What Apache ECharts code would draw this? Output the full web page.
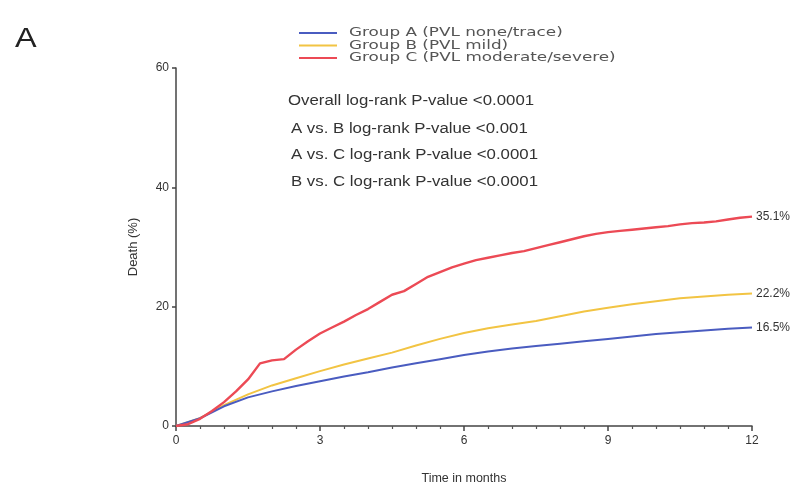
<!DOCTYPE html>
<html>
<head>
<meta charset="utf-8">
<script src="https://cdn.jsdelivr.net/npm/echarts@6/dist/echarts.min.js"></script>
<style>
  html, body { margin: 0; padding: 0; background: #fff; }
  #chart { width: 804px; height: 495px; }
</style>
</head>
<body>
<div id="chart"></div>
<script>
// Cumulative death (%) over the first year, by paravalvular leak grade
const monthsFine = [0,0.25,0.5,0.75,1,1.25,1.5,1.75,2,2.25,2.5,2.75,3,3.25,3.5,3.75,4,4.25,4.5,4.75,5,5.25,5.5,5.75,6,6.25,6.5,6.75,7,7.25,7.5,7.75,8,8.25,8.5,8.75,9,9.25,9.5,9.75,10,10.25,10.5,10.75,11,11.25,11.5,11.75,12];
const monthsHalf = [0,0.5,1,1.5,2,2.5,3,3.5,4,4.5,5,5.5,6,6.5,7,7.5,8,8.5,9,9.5,10,10.5,11,11.5,12];

const groupA = [0,1.3,3.3,4.8,5.8,6.7,7.5,8.3,9.0,9.8,10.5,11.2,11.9,12.5,13.0,13.4,13.8,14.2,14.6,15.0,15.4,15.7,16.0,16.3,16.5];
const groupB = [0,1.3,3.5,5.3,6.8,8.0,9.2,10.3,11.3,12.3,13.5,14.6,15.6,16.4,17.0,17.6,18.4,19.2,19.8,20.4,20.9,21.4,21.7,22.0,22.2];
const groupC = [0,0.3,1.2,2.5,4.0,5.8,7.8,10.5,11.0,11.2,12.8,14.2,15.5,16.5,17.5,18.6,19.6,20.8,22.0,22.6,23.8,25.0,25.8,26.6,27.2,27.8,28.2,28.6,29.0,29.3,29.8,30.3,30.8,31.3,31.8,32.2,32.5,32.7,32.9,33.1,33.3,33.5,33.8,34.0,34.1,34.3,34.6,34.9,35.1];

const seriesNames = ['Group A (PVL none/trace)', 'Group B (PVL mild)', 'Group C (PVL moderate/severe)'];
const seriesColors = ['#4a5cc0', '#f2c443', '#ec4a55'];
const xTicks = [0, 3, 6, 9, 12];
const yTicks = [0, 20, 40, 60];
const pValueLines = [
  'Overall log-rank P-value <0.0001',
  'A vs. B log-rank P-value <0.001',
  'A vs. C log-rank P-value <0.0001',
  'B vs. C log-rank P-value <0.0001'
];

const FONT = '"Liberation Sans", Arial, sans-serif';
const pair = (xs, ys) => xs.map((x, i) => [x, ys[i]]);

const endLabel = {
  show: true,
  formatter: p => p.value[1].toFixed(1) + '%',
  color: '#333',
  fontFamily: FONT,
  fontSize: 12,
  distance: 4
};

// Key: line swatches with wide captions, placed directly in pixel space
const legendItems = [];
seriesNames.forEach((name, i) => {
  const y = 33 + i * 12.5;
  legendItems.push({
    type: 'line',
    silent: true,
    shape: { x1: 299, y1: y, x2: 337, y2: y },
    style: { stroke: seriesColors[i], lineWidth: 2 }
  });
  legendItems.push({
    type: 'text',
    silent: true,
    x: 349, y: y,
    scaleX: 1.4,
    style: { text: name, font: '12px "DejaVu Sans", sans-serif', fill: '#555', verticalAlign: 'middle' }
  });
});

const pValueItems = pValueLines.map((t, i) => ({
  type: 'text',
  silent: true,
  x: i === 0 ? 288 : 291,
  y: i === 0 ? 94 : 122 + (i - 1) * 26.5,
  scaleX: 1.2,
  style: { text: t, font: '14px ' + FONT, fill: '#333' }
}));

const chart = echarts.init(document.getElementById('chart'), null, { renderer: 'canvas' });

chart.setOption({
  animation: false,
  backgroundColor: '#fff',
  textStyle: { fontFamily: FONT },
  grid: { left: 176, right: 52, top: 68, bottom: 69 },
  xAxis: {
    type: 'value',
    min: xTicks[0],
    max: xTicks[xTicks.length - 1],
    interval: 3,
    name: 'Time in months',
    nameLocation: 'middle',
    nameGap: 46,
    nameTextStyle: { fontFamily: FONT, fontSize: 12.5, color: '#333' },
    axisLine: { lineStyle: { color: '#444', width: 1.5 } },
    axisTick: { show: true, length: 5, lineStyle: { color: '#444', width: 1.5 } },
    minorTick: { show: true, splitNumber: 6, length: 3, lineStyle: { color: '#555', width: 1.2 } },
    axisLabel: { fontFamily: FONT, fontSize: 12, color: '#333', margin: 9 },
    splitLine: { show: false }
  },
  yAxis: {
    type: 'value',
    min: yTicks[0],
    max: yTicks[yTicks.length - 1],
    interval: 20,
    name: 'Death (%)',
    nameLocation: 'middle',
    nameGap: 36,
    nameRotate: 90,
    nameTextStyle: { fontFamily: FONT, fontSize: 13, color: '#333' },
    axisLine: { show: true, lineStyle: { color: '#444', width: 1.5 } },
    axisTick: { show: true, length: 4, lineStyle: { color: '#444', width: 1.5 } },
    axisLabel: { fontFamily: FONT, fontSize: 12, color: '#333', margin: 7 },
    splitLine: { show: false }
  },
  series: [
    {
      name: seriesNames[0],
      type: 'line',
      symbol: 'none',
      data: pair(monthsHalf, groupA),
      lineStyle: { width: 2, color: seriesColors[0] },
      endLabel: endLabel,
      z: 3
    },
    {
      name: seriesNames[1],
      type: 'line',
      symbol: 'none',
      data: pair(monthsHalf, groupB),
      lineStyle: { width: 2, color: seriesColors[1] },
      endLabel: endLabel,
      z: 2
    },
    {
      name: seriesNames[2],
      type: 'line',
      symbol: 'none',
      data: pair(monthsFine, groupC),
      lineStyle: { width: 2.4, color: seriesColors[2] },
      endLabel: endLabel,
      z: 4
    }
  ],
  graphic: [
    {
      type: 'text', x: 15, y: 26, silent: true, scaleX: 1.2,
      style: { text: 'A', font: '27px ' + FONT, fill: '#222' }
    }
  ].concat(legendItems, pValueItems)
});
</script>
</body>
</html>
